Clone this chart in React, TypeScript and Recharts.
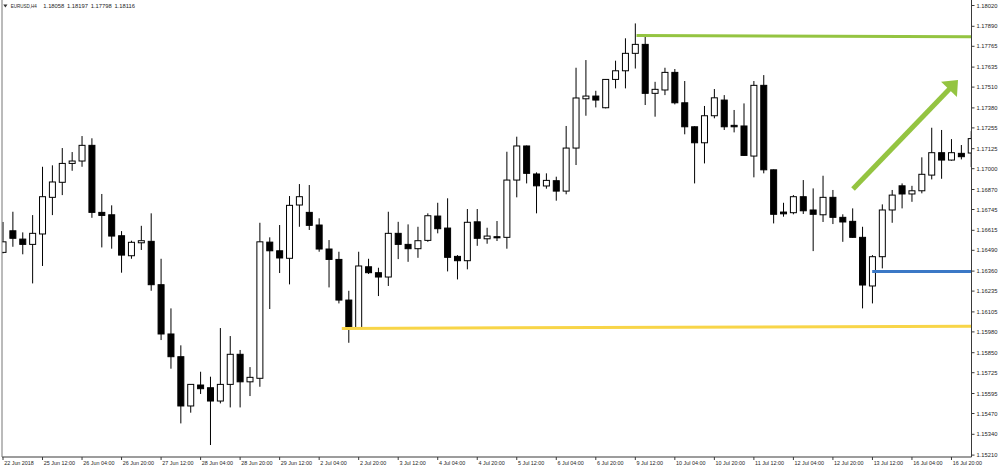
import React from 'react';
import * as Recharts from 'recharts';
import { ComposedChart, Bar, XAxis, YAxis, ReferenceLine } from 'recharts';

// ---- H4 sessions (categories) ----
const sessionFirst = ['22 Jun 20:00'];
const tradingDays = ['25 Jun', '26 Jun', '27 Jun', '28 Jun', '29 Jun', '2 Jul', '3 Jul', '4 Jul', '5 Jul', '6 Jul', '9 Jul', '10 Jul', '11 Jul', '12 Jul', '13 Jul', '16 Jul'];
const h4Slots = ['00:00', '04:00', '08:00', '12:00', '16:00', '20:00'];
const sessionLast = ['17 Jul 00:00', '17 Jul 04:00'];

// ---- OHLC series (EURUSD, H4) ----
const opens = [
  1.16477, 1.16612, 1.16560, 1.16527, 1.16592, 1.16821, 1.16915, 1.17033, 1.17048, 1.17146,
  1.16727, 1.16712, 1.16581, 1.16456, 1.16537, 1.16546, 1.16275, 1.15967, 1.15825, 1.15517,
  1.15648, 1.15631, 1.15548, 1.15652, 1.15840, 1.15668, 1.15690, 1.16541, 1.16487, 1.16440,
  1.16773, 1.16727, 1.16648, 1.16498, 1.16433, 1.16179, 1.16006, 1.16387, 1.16350, 1.16323,
  1.16596, 1.16527, 1.16500, 1.16552, 1.16704, 1.16629, 1.16452, 1.16425, 1.16668, 1.16562,
  1.16575, 1.16571, 1.16929, 1.17142, 1.16967, 1.16892, 1.16925, 1.16860, 1.17129, 1.17437,
  1.17454, 1.17381, 1.17558, 1.17612, 1.17721, 1.17777, 1.17471, 1.17492, 1.17602, 1.17412,
  1.17262, 1.17162, 1.17331, 1.17429, 1.17271, 1.17267, 1.17079, 1.17521, 1.16993, 1.16729,
  1.16725, 1.16825, 1.16742, 1.16712, 1.16821, 1.16696, 1.16671, 1.16571, 1.16267, 1.16450,
  1.16742, 1.16893, 1.16842, 1.16862, 1.16960, 1.17100, 1.17054, 1.17096, 1.17098,
];
const highs = [
  1.16667, 1.16731, 1.16602, 1.16710, 1.17012, 1.17021, 1.17129, 1.17104, 1.17204, 1.17190,
  1.16842, 1.16771, 1.16610, 1.16550, 1.16643, 1.16721, 1.16437, 1.16127, 1.15896, 1.15652,
  1.15731, 1.15700, 1.16004, 1.15954, 1.15867, 1.15760, 1.16662, 1.16571, 1.16648, 1.16829,
  1.16904, 1.16898, 1.16690, 1.16554, 1.16481, 1.16237, 1.16481, 1.16437, 1.16381, 1.16731,
  1.16668, 1.16652, 1.16637, 1.16721, 1.16787, 1.16815, 1.16460, 1.16748, 1.16748, 1.16631,
  1.16673, 1.17106, 1.17200, 1.17145, 1.16977, 1.16971, 1.16950, 1.17267, 1.17631, 1.17679,
  1.17487, 1.17560, 1.17675, 1.17815, 1.17908, 1.17835, 1.17543, 1.17631, 1.17623, 1.17548,
  1.17265, 1.17392, 1.17498, 1.17460, 1.17367, 1.17408, 1.17548, 1.17585, 1.16995, 1.16787,
  1.16835, 1.16929, 1.16877, 1.16956, 1.16867, 1.16715, 1.16752, 1.16637, 1.16460, 1.16777,
  1.16867, 1.16908, 1.16893, 1.17071, 1.17256, 1.17242, 1.17185, 1.17148, 1.17235,
];
const lows = [
  1.16471, 1.16512, 1.16465, 1.16283, 1.16392, 1.16710, 1.16835, 1.16987, 1.17012, 1.16693,
  1.16508, 1.16500, 1.16350, 1.16437, 1.16492, 1.16237, 1.15929, 1.15750, 1.15408, 1.15475,
  1.15592, 1.15273, 1.15533, 1.15508, 1.15508, 1.15579, 1.15637, 1.16123, 1.16348, 1.16277,
  1.16637, 1.16617, 1.16481, 1.16258, 1.16158, 1.15912, 1.16004, 1.16342, 1.16204, 1.16267,
  1.16435, 1.16418, 1.16443, 1.16543, 1.16596, 1.16358, 1.16308, 1.16371, 1.16518, 1.16531,
  1.16548, 1.16500, 1.16821, 1.16908, 1.16721, 1.16875, 1.16800, 1.16840, 1.17023, 1.17331,
  1.17383, 1.17377, 1.17502, 1.17502, 1.17626, 1.17398, 1.17325, 1.17460, 1.17402, 1.17215,
  1.16908, 1.17033, 1.17315, 1.17242, 1.17227, 1.17080, 1.16946, 1.16971, 1.16658, 1.16700,
  1.16715, 1.16717, 1.16485, 1.16667, 1.16654, 1.16543, 1.16568, 1.16127, 1.16158, 1.16377,
  1.16662, 1.16752, 1.16793, 1.16846, 1.16933, 1.16937, 1.17050, 1.17058, 1.17010,
];
const closes = [
  1.16543, 1.16565, 1.16527, 1.16596, 1.16825, 1.16917, 1.17033, 1.17048, 1.17146, 1.16727,
  1.16708, 1.16579, 1.16460, 1.16540, 1.16550, 1.16275, 1.15967, 1.15825, 1.15517, 1.15652,
  1.15625, 1.15548, 1.15652, 1.15840, 1.15668, 1.15696, 1.16543, 1.16487, 1.16442, 1.16771,
  1.16825, 1.16646, 1.16498, 1.16433, 1.16179, 1.16006, 1.16392, 1.16350, 1.16323, 1.16596,
  1.16527, 1.16500, 1.16550, 1.16706, 1.16625, 1.16446, 1.16425, 1.16665, 1.16565, 1.16579,
  1.16568, 1.16929, 1.17142, 1.16971, 1.16893, 1.16927, 1.16860, 1.17129, 1.17442, 1.17454,
  1.17429, 1.17558, 1.17612, 1.17721, 1.17777, 1.17471, 1.17496, 1.17602, 1.17412, 1.17262,
  1.17162, 1.17331, 1.17443, 1.17262, 1.17262, 1.17083, 1.17521, 1.16993, 1.16715, 1.16718,
  1.16825, 1.16737, 1.16715, 1.16821, 1.16696, 1.16667, 1.16571, 1.16273, 1.16450, 1.16742,
  1.16835, 1.16842, 1.16862, 1.16965, 1.17100, 1.17054, 1.17100, 1.17075, 1.17188,
];

// ---- axis tick labels ----
const priceTicks = [
  1.18020, 1.17890, 1.17765, 1.17635, 1.17510, 1.17380, 1.17255, 1.17125, 1.17000, 1.16870,
  1.16745, 1.16615, 1.16490, 1.16360, 1.16235, 1.16105, 1.15980, 1.15850, 1.15725, 1.15595,
  1.15470, 1.15340, 1.15210,
];
const timeTickLabels = [
  '22 Jun 2018', '25 Jun 12:00', '26 Jun 04:00', '26 Jun 20:00', '27 Jun 12:00', '28 Jun 04:00',
  '28 Jun 20:00', '29 Jun 12:00', '2 Jul 04:00', '2 Jul 20:00', '3 Jul 12:00', '4 Jul 04:00',
  '4 Jul 20:00', '5 Jul 12:00', '6 Jul 04:00', '6 Jul 20:00', '9 Jul 12:00', '10 Jul 04:00',
  '10 Jul 20:00', '11 Jul 12:00', '12 Jul 04:00', '12 Jul 20:00', '13 Jul 12:00', '16 Jul 04:00',
  '16 Jul 20:00',
];
const timeTickStep = 4;

// ---- header ----
const symbolTitle = 'EURUSD,H4';
const headerQuotes = ['1.18058', '1.18197', '1.17798', '1.18116'];

// ---- drawn objects: [bar position, price] ----
const resistanceLine = [[63.97, 1.17833], [98.5, 1.17824]];
const supportLine = [[34.44, 1.16002], [98.5, 1.16015]];
const entryLine = [[87.58, 1.16357], [98.5, 1.16357]];
const trendArrow = [[85.66, 1.16873], [96.18, 1.17554]];

// ---- styles ----
const FONT = "'Liberation Sans', Arial, sans-serif";
const AXIS = '#3a3a3a';
const TEXT = '#1e1e1e';
const GREEN = '#94c441';
const YELLOW = '#f8d548';
const BLUE = '#3b78c6';

const times = [
  ...sessionFirst,
  ...tradingDays.flatMap((d) => h4Slots.map((s) => `${d} ${s}`)),
  ...sessionLast,
];

const candles = times.map((time, i) => ({
  time,
  open: opens[i],
  high: highs[i],
  low: lows[i],
  close: closes[i],
}));

const tickLabelByTime = new Map<string, string>(
  timeTickLabels.map((label, k) => [times[k * timeTickStep], label])
);

const toSegment = (pts: number[][]) => pts.map(([x, y]) => ({ x, y }));

// plot-area hook (falls back to no clipping if unavailable)
const usePlotAreaSafe: () => any = (Recharts as any).usePlotArea ?? (() => undefined);

// candlestick drawn inside the [low, high] range bar
const Candle = (props: any) => {
  const plot = usePlotAreaSafe();
  const { x, y, width, height, payload, index } = props;
  if (x == null || y == null || !payload) return null;
  const top = Math.min(y, y + height);
  const bottom = Math.max(y, y + height);
  const { open, high, low, close } = payload;
  const span = high - low;
  const toY = (v: number) => (span > 0 ? top + ((high - v) / span) * (bottom - top) : top);
  const cx = x + width / 2;
  const bull = close >= open;
  const bodyTop = toY(Math.max(open, close));
  const bodyBottom = toY(Math.min(open, close));
  const bodyH = Math.max(bodyBottom - bodyTop, 1);
  const bodyW = 6;
  const atEdge =
    plot && (cx - bodyW / 2 - 1 < plot.x || cx + bodyW / 2 + 1 > plot.x + plot.width);
  const clipId = `candle-edge-clip-${index}`;
  return (
    <g>
      {atEdge && (
        <defs>
          <clipPath id={clipId}>
            <rect x={plot.x} y={plot.y} width={plot.width} height={plot.height} />
          </clipPath>
        </defs>
      )}
      <g clipPath={atEdge ? `url(#${clipId})` : undefined}>
        <line x1={cx} x2={cx} y1={top} y2={bottom} stroke="#000" strokeWidth={1} />
        <rect
          x={cx - bodyW / 2}
          y={bodyTop}
          width={bodyW}
          height={bodyH}
          fill={bull ? '#fff' : '#000'}
          stroke="#000"
          strokeWidth={1}
        />
      </g>
    </g>
  );
};

const TimeTick = (props: any) => {
  const { x, y, payload } = props;
  const label = tickLabelByTime.get(payload?.value);
  if (!label) return null;
  return (
    <text x={x + 1.2} y={y} dy="0.71em" fontSize={5.4} fontFamily={FONT} fill={TEXT} textAnchor="start">
      {label}
    </text>
  );
};

const ArrowShape = (props: any) => {
  const { x1, y1, x2, y2, clipPath } = props;
  if ([x1, y1, x2, y2].some((v) => v == null || Number.isNaN(v))) return null;
  const dx = x2 - x1;
  const dy = y2 - y1;
  const len = Math.hypot(dx, dy) || 1;
  const ux = dx / len;
  const uy = dy / len;
  const nx = -uy;
  const ny = ux;
  const headLen = 13;
  const headHalf = 11;
  const bx = x2 - ux * headLen;
  const by = y2 - uy * headLen;
  return (
    <g clipPath={clipPath}>
      <line x1={x1} y1={y1} x2={bx + ux} y2={by + uy} stroke={GREEN} strokeWidth={5} />
      <polygon
        points={`${x2},${y2} ${bx + nx * headHalf},${by + ny * headHalf} ${bx - nx * headHalf},${by - ny * headHalf}`}
        fill={GREEN}
      />
    </g>
  );
};

const xPadding = { left: -3.94, right: -4.68 };

export default function App() {
  return (
    <div style={{ position: 'absolute', left: 0, top: 0, width: 1000, height: 470, background: '#fff' }}>
      <ComposedChart width={1000} height={470} data={candles} margin={{ top: 0, right: 0, bottom: 0, left: 2 }}>
        <XAxis
          dataKey="time"
          interval={timeTickStep - 1}
          tick={<TimeTick />}
          tickSize={3}
          tickMargin={1}
          height={13}
          padding={xPadding}
          allowDataOverflow
          axisLine={{ stroke: AXIS }}
          tickLine={{ stroke: AXIS }}
        />
        <XAxis
          xAxisId="pos"
          type="number"
          domain={[-0.5, candles.length - 0.5]}
          allowDataOverflow
          padding={xPadding}
          hide
        />
        <YAxis
          orientation="right"
          domain={[1.15198125, 1.18054375]}
          allowDataOverflow
          ticks={priceTicks}
          interval={0}
          width={28.5}
          tickSize={3}
          tickMargin={2}
          tickFormatter={(v: number) => v.toFixed(5)}
          tick={{ fontSize: 5.8, fontFamily: FONT, fill: TEXT }}
          axisLine={{ stroke: AXIS }}
          tickLine={{ stroke: AXIS }}
        />
        <YAxis
          yAxisId="frame"
          orientation="left"
          mirror
          domain={[0, 1]}
          tick={false}
          tickLine={false}
          axisLine={{ stroke: '#777' }}
        />
        <Bar
          dataKey={(d: any) => [d.low, d.high]}
          barSize={7.88}
          shape={(p: any) => <Candle {...p} />}
          isAnimationActive={false}
        />
        <ReferenceLine
          xAxisId="pos"
          segment={toSegment(supportLine)}
          stroke={YELLOW}
          strokeWidth={3}
          ifOverflow="hidden"
        />
        <ReferenceLine
          xAxisId="pos"
          segment={toSegment(resistanceLine)}
          stroke={GREEN}
          strokeWidth={3}
          ifOverflow="hidden"
        />
        <ReferenceLine
          xAxisId="pos"
          segment={toSegment(entryLine)}
          stroke={BLUE}
          strokeWidth={3}
          ifOverflow="hidden"
        />
        <ReferenceLine
          xAxisId="pos"
          segment={toSegment(trendArrow)}
          stroke={GREEN}
          ifOverflow="hidden"
          shape={(p: any) => <ArrowShape {...p} />}
        />
      </ComposedChart>
      <svg
        width={220}
        height={14}
        style={{ position: 'absolute', left: 0, top: 0, pointerEvents: 'none' }}
      >
        <polygon points="3.3,4.4 7.5,4.4 5.4,7.4" fill="#333" />
        <text
          x={10.7}
          y={6}
          dy="0.355em"
          fontSize={5.8}
          fontFamily={FONT}
          fill={TEXT}
          textLength={26}
          lengthAdjust="spacingAndGlyphs"
        >
          {symbolTitle}
        </text>
        {headerQuotes.map((q, k) => (
          <text key={q + k} x={43.3 + k * 23.7} y={6} dy="0.355em" fontSize={5.8} fontFamily={FONT} fill={TEXT}>
            {q}
          </text>
        ))}
      </svg>
    </div>
  );
}
